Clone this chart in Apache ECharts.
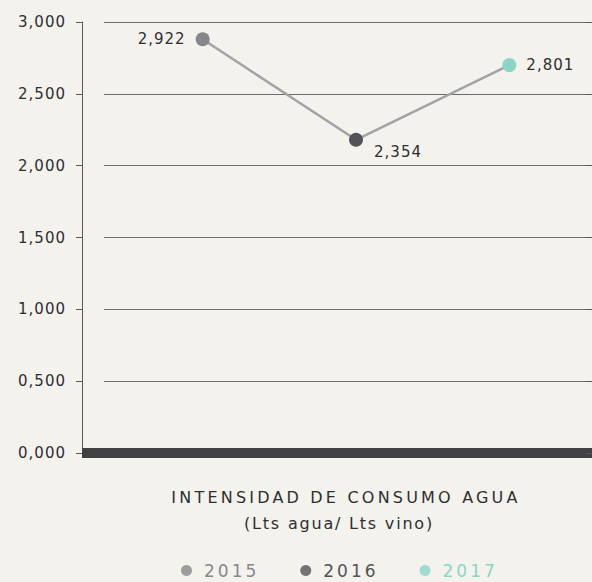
<!DOCTYPE html>
<html>
<head>
<meta charset="utf-8">
<script src="https://cdn.jsdelivr.net/npm/echarts@6/dist/echarts.min.js"></script>
<style>
  html, body { margin: 0; padding: 0; background: #f4f2ed; }
  #chart { width: 592px; height: 582px; }
</style>
</head>
<body>
<div id="chart"></div>
<script>
// data
const years = ['2015', '2016', '2017']
const values = [2880, 2180, 2700]            // where the dots sit
const valueLabels = ['2,922', '2,354', '2,801'] // what the labels say
const yearColors = ['#87878b', '#535357', '#8dd4c8']
const yTicks = [0, 500, 1000, 1500, 2000, 2500, 3000]
const yTickLabels = ['0,000', '0,500', '1,000', '1,500', '2,000', '2,500', '3,000']
const titleText = 'INTENSIDAD DE CONSUMO AGUA'
const subText = '(Lts agua/ Lts vino)'

const font = 'DejaVu Sans'
const textColor = '#2e2e31'

let chart = echarts.init(document.getElementById('chart'), null, {renderer: 'svg'})

const labelPos = ['left', 'bottom', 'right']
const labelOffset = [[-2, 0], [42, -10], [2, 0]]

const option = {
    backgroundColor: '#f4f2ed',
    animation: false,
    title: [{
        text: titleText,
        left: 341,
        top: 484,
        textAlign: 'center',
        textStyle: {
            fontFamily: font,
            fontSize: 16,
            fontWeight: 'normal',
            color: textColor
        }
    }, {
        text: subText,
        left: 334,
        top: 510,
        textAlign: 'center',
        textStyle: {
            fontFamily: font,
            fontSize: 16,
            fontWeight: 'normal',
            color: textColor
        }
    }],
    legend: {
        top: 557,
        left: 176,
        orient: 'horizontal',
        icon: 'circle',
        itemWidth: 11,
        itemHeight: 11,
        itemGap: 53,
        selectedMode: false,
        data: years.map((y, i) => ({
            name: y,
            textStyle: { color: yearColors[i] }
        })),
        textStyle: {
            fontFamily: font,
            fontSize: 17,
            padding: [0, 0, 0, 7]
        }
    },
    grid: [
        // data area
        {left: 126, right: 6, top: 22, bottom: 129},
        // y axis + thick base line
        {left: 82, right: 0, top: 22, bottom: 129},
        // grid lines
        {left: 104, right: 0, top: 22, bottom: 129}
    ],
    xAxis: [
        {gridIndex: 0, type: 'category', data: years, show: false},
        {
            gridIndex: 1, type: 'value', min: 0, max: 1,
            axisLine: {show: true, onZero: false, lineStyle: {color: '#414143', width: 10, cap: 'butt'}},
            axisTick: {show: false},
            axisLabel: {show: false},
            splitLine: {show: false}
        },
        {gridIndex: 2, type: 'category', data: years, show: false}
    ],
    yAxis: [
        {gridIndex: 0, type: 'value', min: 0, max: 3000, interval: 500, show: false},
        {
            gridIndex: 1, type: 'value', min: 0, max: 3000, interval: 500,
            axisLine: {show: true, lineStyle: {color: '#5a5a5c', width: 1}},
            axisTick: {show: true, length: 6, lineStyle: {color: '#5a5a5c'}},
            splitLine: {show: false},
            axisLabel: {
                margin: 16,
                fontFamily: font,
                fontSize: 15,
                color: textColor,
                formatter: function (v) {
                    return yTickLabels[yTicks.indexOf(v)]
                }
            }
        },
        {
            gridIndex: 1, type: 'value', min: 0, max: 3000, interval: 500,
            axisLine: {show: false},
            axisTick: {show: true, inside: true, length: 6, lineStyle: {color: '#5a5a5c'}},
            splitLine: {show: false},
            axisLabel: {show: false}
        },
        {
            gridIndex: 2, type: 'value', min: 0, max: 3000, interval: 500,
            axisLine: {show: false},
            axisTick: {show: false},
            axisLabel: {show: false},
            splitLine: {
                show: true,
                lineStyle: {color: '#6b6b6d', width: 1}
            }
        }
    ],
    series: [
        {
            type: 'line',
            xAxisIndex: 0,
            yAxisIndex: 0,
            symbol: 'circle',
            symbolSize: 14,
            lineStyle: {color: '#a2a2a8', width: 2.5},
            data: values.map((v, i) => ({
                value: v,
                itemStyle: {color: yearColors[i]},
                label: {
                    show: true,
                    position: labelPos[i],
                    offset: labelOffset[i],
                    distance: 8,
                    formatter: valueLabels[i],
                    fontFamily: font,
                    fontSize: 15,
                    color: textColor
                }
            }))
        }
    ].concat(years.map((y, i) => ({
        name: y,
        type: 'scatter',
        xAxisIndex: 0,
        yAxisIndex: 0,
        itemStyle: {color: yearColors[i]},
        data: []
    })))
}

chart.setOption(option)

// the original uses tracked-out type, svg text can take letter-spacing
function spaceText() {
    let nodes = document.querySelectorAll('#chart svg text')
    nodes.forEach(function (n) {
        let t = n.textContent
        let sp = '1px'
        if (t === titleText) sp = '3.2px'
        else if (t === subText) sp = '1.8px'
        else if (years.indexOf(t) >= 0) sp = '3px'
        n.style.letterSpacing = sp
    })
}
spaceText()
chart.on('finished', spaceText)
</script>
</body>
</html>
